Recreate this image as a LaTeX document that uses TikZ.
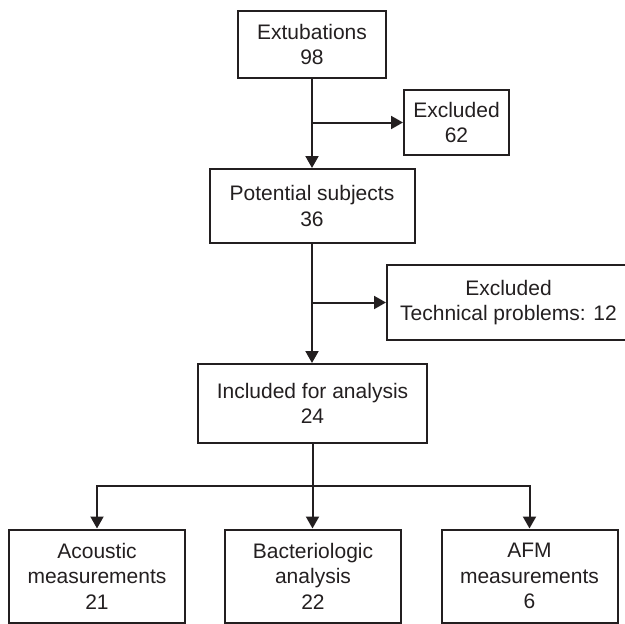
\documentclass[tikz,border=0pt]{standalone}
\usepackage{fontspec}
\setmainfont{Liberation Sans}
\usetikzlibrary{arrows.meta}
\definecolor{ink}{RGB}{35,31,32}
\begin{document}
\begin{tikzpicture}[x=1pt,y=-1pt,
  box/.style={draw=ink,line width=2pt,inner sep=0pt,align=center,text=ink,
    font=\fontsize{21}{25.5}\selectfont},
  link/.style={draw=ink,line width=2pt},
  arr/.style={link,-{Triangle[length=12pt,width=13pt]}}]
\useasboundingbox (0,0) rectangle (625,624);
\node[box,minimum width=148pt,minimum height=67pt] (b1) at (312,44.5) {Extubations\\98};
\node[box,minimum width=105pt,minimum height=65pt] (ex1) at (456.5,122.5) {Excluded\\62};
\node[box,minimum width=205pt,minimum height=74pt] (pot) at (312,206) {Potential subjects\\36};
\node[box,minimum width=243pt,minimum height=75pt] (ex2) at (508.5,302.5) {Excluded\\Technical problems: 12};
\node[box,minimum width=229pt,minimum height=79pt] (inc) at (312.5,403.5) {Included for analysis\\24};
\node[box,minimum width=176pt,minimum height=93pt] (bl) at (97,576) {Acoustic\\measurements\\21};
\node[box,minimum width=176pt,minimum height=93pt] (bm) at (313,576) {Bacteriologic\\analysis\\22};
\node[box,minimum width=176pt,minimum height=93pt] (br) at (529.5,576) {AFM\\measurements\\6};
\coordinate (j1) at (312,122.5);
\coordinate (j2) at (312,302.5);
\coordinate (j3) at (312.5,486);
\draw[arr] (b1.south) -- (pot.north);
\draw[arr] (j1) -- (ex1.west);
\draw[arr] (pot.south) -- (pot.south |- inc.north);
\draw[arr] (j2) -- (ex2.west);
\draw[link] (inc.south) -- (j3);
\draw[arr] (j3) -| (bl.north);
\draw[arr] (j3) -| (br.north);
\draw[arr] (j3) -- (j3 |- bm.north);
\end{tikzpicture}
\end{document}
